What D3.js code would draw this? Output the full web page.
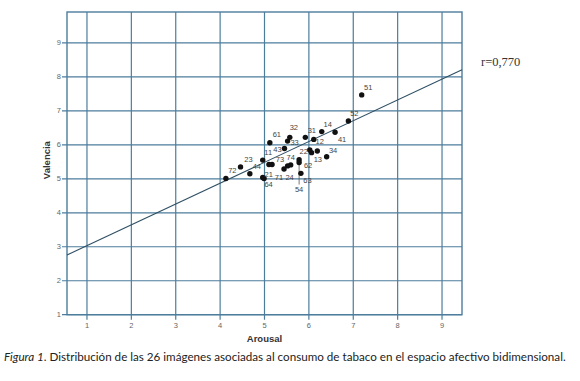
<!DOCTYPE html>
<html>
<head>
<meta charset="utf-8">
<script src="https://cdn.jsdelivr.net/npm/d3@7"></script>
<style>
  html, body { margin: 0; padding: 0; background: #fff; }
  svg { display: block; }
</style>
</head>
<body>
<svg id="chart" width="580" height="381"></svg>
<script>
// ======================
// DATA
// ======================

const imageLabels = [
    "51", "52", "14", "41", "31", "12", "32", "33", "61", "43",
    "22", "13", "34", "11", "73", "71", "24", "74", "62", "54",
    "63", "23", "44", "72", "21", "64"
];
const arousal = [
    7.19, 6.89, 6.29, 6.59, 5.92, 6.11, 5.57, 5.52, 5.12, 5.45,
    6.02, 6.19, 6.40, 4.96, 5.17, 5.44, 5.52, 5.59, 5.78, 5.78,
    5.82, 4.46, 4.67, 4.13, 4.96, 4.99
];
const valencia = [
    7.47, 6.70, 6.39, 6.37, 6.22, 6.16, 6.22, 6.11, 6.06, 5.89,
    5.85, 5.82, 5.65, 5.55, 5.42, 5.29, 5.38, 5.41, 5.56, 5.48,
    5.16, 5.35, 5.15, 5.01, 5.04, 5.01
];
// points without a visible label (overlapping in the cluster)
const extraArousal = [5.10, 6.06];
const extraValencia = [5.42, 5.77];

const xTicks = [1, 2, 3, 4, 5, 6, 7, 8, 9];
const yTicks = [1, 2, 3, 4, 5, 6, 7, 8, 9];

// fit line: valencia = a + b * arousal
const fitIntercept = 2.42;
const fitSlope = 0.613;
const rLabel = "r=0,770";

// label placement relative to its dot (px)
const labelOffset = {
    "51": [6.5, -8], "52": [6, -8], "14": [6, -7.5], "41": [7, 7.5],
    "31": [6.5, -7], "12": [6, 2], "32": [4, -10.5], "33": [7, 1],
    "61": [7, -8], "43": [-7, 0.5], "22": [-6, 1], "13": [0.5, 8],
    "34": [6.5, -6.5], "11": [5.5, -8], "73": [8, -5], "71": [-5, 8],
    "24": [2, 11], "74": [0, -7.5], "62": [9, 6], "54": [0, 27],
    "63": [6.5, 6.5], "23": [8, -8], "44": [7, -7], "72": [6.5, -8],
    "21": [6, -3.5], "64": [4.5, 6]
};

// ======================
// CHART SETUP
// ======================

const svg = d3.select("#chart");
const plot = { left: 67, right: 462, top: 12, bottom: 314.7 };

const x = d3.scaleLinear().domain([0.55, 9.45]).range([plot.left, plot.right]);
const y = d3.scaleLinear().domain([1, 9.91]).range([plot.bottom, plot.top]);

const gridColor = "#4d7d9c";
const g = svg.append("g");

// grid
g.selectAll("line.vgrid").data(xTicks).enter()
    .append("line")
    .attr("class", "vgrid")
    .attr("x1", d => x(d)).attr("x2", d => x(d))
    .attr("y1", plot.top).attr("y2", plot.bottom + 5)
    .attr("stroke", gridColor).attr("stroke-width", 1.2);

g.selectAll("line.hgrid").data(yTicks).enter()
    .append("line")
    .attr("class", "hgrid")
    .attr("x1", plot.left - 5).attr("x2", plot.right)
    .attr("y1", d => y(d)).attr("y2", d => y(d))
    .attr("stroke", gridColor).attr("stroke-width", 1.2);

// frame
g.append("rect")
    .attr("x", plot.left).attr("y", plot.top)
    .attr("width", plot.right - plot.left)
    .attr("height", plot.bottom - plot.top)
    .attr("fill", "none")
    .attr("stroke", gridColor).attr("stroke-width", 1.4);

// tick labels
g.selectAll("text.xtick").data(xTicks).enter()
    .append("text")
    .attr("class", "xtick")
    .attr("x", d => x(d)).attr("y", plot.bottom + 13)
    .attr("text-anchor", "middle")
    .attr("font-family", "Arial, 'Liberation Sans', sans-serif")
    .attr("font-size", 7.5).attr("fill", "#666")
    .text(d => d);

g.selectAll("text.ytick").data(yTicks).enter()
    .append("text")
    .attr("class", "ytick")
    .attr("x", plot.left - 6).attr("y", d => y(d) + 2.5)
    .attr("text-anchor", "end")
    .attr("font-family", "Arial, 'Liberation Sans', sans-serif")
    .attr("font-size", 7.5).attr("fill", "#666")
    .text(d => d);

// axis titles
g.append("text")
    .attr("x", (plot.left + plot.right) / 2).attr("y", 342)
    .attr("text-anchor", "middle")
    .attr("font-family", "Arial, 'Liberation Sans', sans-serif")
    .attr("font-weight", "bold").attr("font-size", 9.5).attr("fill", "#333")
    .text("Arousal");

g.append("text")
    .attr("transform", `translate(50,${y(5.55)}) rotate(-90)`)
    .attr("text-anchor", "middle")
    .attr("font-family", "Arial, 'Liberation Sans', sans-serif")
    .attr("font-weight", "bold").attr("font-size", 9.5).attr("fill", "#333")
    .text("Valencia");

// fit line across the plot area
const fitLine = d3.line()
    .x(d => x(d))
    .y(d => y(fitIntercept + fitSlope * d));
g.append("path")
    .datum(x.domain())
    .attr("d", fitLine)
    .attr("fill", "none")
    .attr("stroke", "#2f4f63").attr("stroke-width", 1.1);

g.append("text")
    .attr("x", 481).attr("y", 66)
    .attr("font-family", "'Liberation Serif', 'Times New Roman', serif")
    .attr("font-size", 12.5).attr("fill", "#333")
    .text(rLabel);

// points
const points = imageLabels.map((lab, i) => ({ lab, ax: arousal[i], va: valencia[i] }));
const extras = extraArousal.map((ax, i) => ({ ax, va: extraValencia[i] }));

// leader line for the label that sits away from its dot
const lead = points.find(p => p.lab === "54");
g.append("line")
    .attr("x1", x(lead.ax)).attr("x2", x(lead.ax))
    .attr("y1", y(lead.va)).attr("y2", y(lead.va) + labelOffset["54"][1] - 5)
    .attr("stroke", "#555").attr("stroke-width", 0.8);

g.selectAll("circle.extra").data(extras).enter()
    .append("circle")
    .attr("class", "extra")
    .attr("cx", d => x(d.ax)).attr("cy", d => y(d.va))
    .attr("r", 2.7).attr("fill", "#111");

g.selectAll("circle.pt").data(points).enter()
    .append("circle")
    .attr("class", "pt")
    .attr("cx", d => x(d.ax)).attr("cy", d => y(d.va))
    .attr("r", 2.7).attr("fill", "#111");

g.selectAll("text.lab").data(points).enter()
    .append("text")
    .attr("class", "lab")
    .attr("x", d => x(d.ax) + labelOffset[d.lab][0])
    .attr("y", d => y(d.va) + labelOffset[d.lab][1] + 2.7)
    .attr("text-anchor", "middle")
    .attr("font-family", "Arial, 'Liberation Sans', sans-serif")
    .attr("font-size", 7.5).attr("fill", "#444")
    .text(d => d.lab);

// caption
const caption = svg.append("text")
    .attr("x", 4).attr("y", 361)
    .attr("font-family", "Lato, 'Open Sans', sans-serif")
    .attr("font-size", 11.65).attr("fill", "#222");
caption.append("tspan").attr("font-style", "italic").text("Figura 1");
caption.append("tspan").text(". Distribución de las 26 imágenes asociadas al consumo de tabaco en el espacio afectivo bidimensional.");
</script>
</body>
</html>
